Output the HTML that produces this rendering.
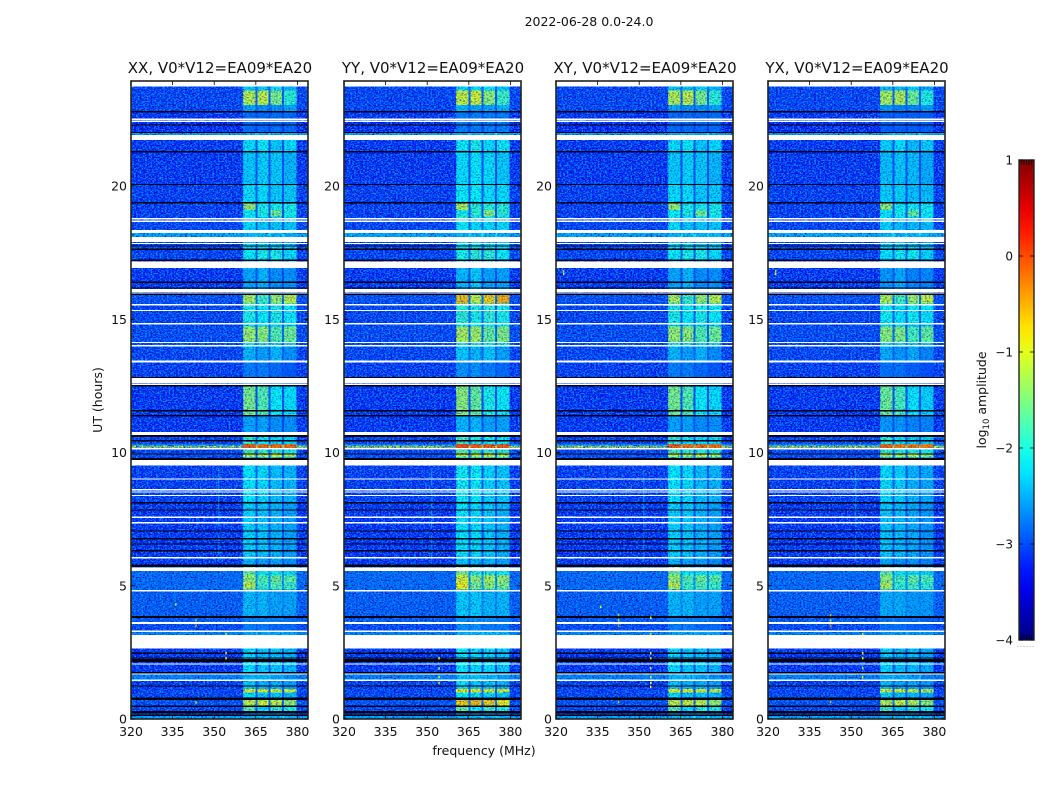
<!DOCTYPE html>
<html lang="en">
<head>
<meta charset="utf-8">
<title>2022-06-28 amplitude waterfall</title>
<style>
html,body{margin:0;padding:0;background:#fff;}
svg{display:block;}
text{font-family:"DejaVu Sans","Liberation Sans",sans-serif;fill:#111;}
</style>
</head>
<body>
<svg id="chart" xmlns="http://www.w3.org/2000/svg" width="1050" height="800" viewBox="0 0 1050 800">
<defs>
<filter id="speck-dark" x="0" y="0" width="100%" height="100%" color-interpolation-filters="sRGB">
<feTurbulence type="fractalNoise" baseFrequency="0.55 0.75" numOctaves="2" seed="3"/>
<feColorMatrix type="matrix" values="0 0 0 0 0  0 0 0 0 0  0 0 0 0 0.65  3.5 0 0 0 -1.6"/>
</filter>
<filter id="speck-light" x="0" y="0" width="100%" height="100%" color-interpolation-filters="sRGB">
<feTurbulence type="fractalNoise" baseFrequency="0.55 0.75" numOctaves="2" seed="11"/>
<feColorMatrix type="matrix" values="0 0 0 0 0  0 0 0 0 0.6  0 0 0 0 1  0 4 0 0 -1.7"/>
</filter>
<linearGradient id="jet-gradient" x1="0" y1="1" x2="0" y2="0"></linearGradient>
</defs>
<text x="589" y="26" text-anchor="middle" font-size="12.5">2022-06-28 0.0-24.0</text>
<text transform="translate(102,400) rotate(-90)" text-anchor="middle" font-size="12.5">UT (hours)</text>
<text x="484" y="755" text-anchor="middle" font-size="12.5">frequency (MHz)</text>
<text transform="translate(986,400) rotate(-90)" text-anchor="middle" font-size="12.5">log<tspan dy="3" font-size="8.5">10</tspan><tspan dy="-3"> amplitude</tspan></text>
</svg>
<script>
// ---------- chart data ----------
const panelTitles = ["XX, V0*V12=EA09*EA20", "YY, V0*V12=EA09*EA20", "XY, V0*V12=EA09*EA20", "YX, V0*V12=EA09*EA20"];
const panelBandGain = [0, 0.1, 0, -0.06];
const freqTicks = [320, 335, 350, 365, 380];
const utTicks = [0, 5, 10, 15, 20];
const colorTicks = [1, 0, -1, -2, -3, -4];

// channel groups along frequency (MHz); each group takes its level from channelSource
const channelEdges = [320, 360.4, 364.8, 365.6, 369.6, 370.2, 374.5, 375.1, 379.7, 383.8];
const channelSource = ["bg", "s1", "gap", "s2", "gap", "s3", "gap", "s4", "bg"];
const gapBoost = 0.35;

// UT blocks (hours) and their log10 amplitude per group
const utEdges = [0,0.11,0.3,0.46,0.8,1.0,1.12,1.43,1.68,2.64,3.3,3.56,3.86,4.85,5.15,5.4,5.7,6.05,8.1,9.7,9.83,9.98,10.17,10.26,10.32,10.6,11.4,12.55,13.4,14.0,14.15,14.72,14.85,15.6,15.95,16.9,17.2,17.7,18.09,18.24,18.7,18.85,19.1,19.4,20.05,21.3,21.75,22.0,22.45,22.75,23.04,23.58,23.94];
const levelBg = [-2.4,-3.1,-3.2,-3.1,-3.2,-3.2,-3.25,-2.7,-3.3,-2.7,-3.15,-3.0,-3.0,-2.9,-2.9,-2.9,-3.3,-3.3,-3.25,-3.2,-3.1,-3.2,-0.95,-2.7,-3.2,-3.3,-3.3,-3.25,-3.2,-3.1,-3.15,-3.2,-3.2,-3.1,-3.3,-3.3,-3.2,-3.2,-2.4,-3.2,-3.25,-3.25,-3.25,-3.25,-3.3,-3.3,-2.45,-3.4,-3.3,-3.2,-3.2,-3.2];
const levelS1 = [-2.4,-2.5,-1.7,-1.15,-2.2,-0.95,-2.3,-2.4,-2.2,-2.5,-2.7,-2.7,-2.4,-1.2,-1.35,-1.6,-2.4,-2.25,-2.15,-2.2,-1.1,-1.8,-0.1,-0.1,-1.9,-2.5,-1.5,-2.7,-2.4,-2.1,-1.35,-2.2,-2.0,-1.25,-2.5,-2.3,-2.1,-2.2,-2.4,-2.2,-2.0,-2.1,-1.35,-2.2,-2.3,-2.2,-2.45,-2.8,-2.8,-2.5,-1.2,-2.3];
const levelS2 = [-2.4,-2.5,-2.2,-1.05,-2.3,-0.95,-2.4,-2.4,-2.3,-2.5,-2.7,-2.7,-2.4,-1.8,-1.7,-2.1,-2.5,-2.3,-2.2,-2.2,-1.1,-1.9,-0.2,-0.2,-2.1,-2.5,-1.7,-2.7,-2.5,-2.1,-1.4,-2.2,-2.1,-1.8,-2.4,-2.3,-2.0,-2.2,-2.4,-2.3,-2.15,-2.0,-2.0,-2.2,-2.25,-2.1,-2.45,-2.8,-2.8,-2.6,-1.15,-2.3];
const levelS3 = [-2.4,-2.5,-1.9,-1.15,-2.3,-1.05,-2.4,-2.5,-2.3,-2.5,-2.8,-2.7,-2.5,-1.7,-1.55,-2.1,-2.5,-2.4,-2.35,-2.3,-0.9,-2.0,-0.2,-0.2,-2.2,-2.6,-2.1,-2.8,-2.4,-2.2,-1.7,-2.3,-2.0,-1.35,-2.6,-2.4,-2.0,-2.3,-2.4,-2.3,-2.2,-1.55,-2.0,-2.3,-2.3,-2.3,-2.45,-2.8,-2.8,-2.6,-1.5,-2.2];
const levelS4 = [-2.4,-2.6,-2.0,-1.35,-2.4,-1.1,-2.5,-2.6,-2.4,-2.5,-2.8,-2.8,-2.5,-1.8,-1.65,-2.2,-2.6,-2.5,-2.4,-2.3,-1.2,-2.0,-0.2,-0.2,-2.2,-2.6,-2.2,-2.9,-2.6,-2.2,-1.55,-2.3,-2.1,-1.15,-2.6,-2.4,-2.2,-2.3,-2.4,-2.3,-2.1,-2.0,-2.0,-2.3,-2.4,-2.2,-2.45,-2.8,-2.8,-2.5,-1.9,-2.4];

// per-panel brightening of selected UT ranges (in-band only)
const boostPanel = [1, 1, 1, 3];
const boostStart = [15.6, 0.46, 4.85, 15.6];
const boostEnd = [15.95, 0.8, 5.4, 15.95];
const boostValue = [0.55, 0.35, 0.2, 0.1];

// flagged (blank) UT ranges, hours
const flagStart = [23.74,22.50,22.42,21.73,18.75,18.67,18.24,17.90,17.85,16.92,16.03,15.98,15.53,15.31,14.82,14.10,13.99,13.37,12.61,12.56,10.66,10.12,9.52,9.01,8.59,8.49,8.37,7.55,7.35,6.03,5.56,4.80,3.56,3.26,2.64,2.06,1.68,1.43];
const flagEnd = [23.94,22.53,22.45,21.91,18.79,18.70,18.35,18.09,17.87,17.16,16.14,16.01,15.57,15.35,14.86,14.15,14.03,13.45,12.80,12.58,10.77,10.17,9.71,9.03,8.63,8.54,8.41,7.59,7.39,6.08,5.68,4.84,3.64,3.33,3.16,2.09,1.71,1.49];

// zero-amplitude (black) UT ranges, hours
const zeroStart = [22.77,22.29,21.99,21.28,20.05,19.37,17.73,17.64,17.21,16.39,16.15,15.94,12.81,12.49,11.56,11.36,10.59,10.44,9.94,9.72,8.11,7.83,7.04,6.77,6.54,6.30,5.71,3.79,2.44,2.27,2.14,1.73,1.22,0.71,0.46,0.21,0.12];
const zeroEnd = [22.81,22.31,22.03,21.31,20.08,19.40,17.77,17.65,17.24,16.41,16.20,15.96,12.84,12.53,11.59,11.40,10.65,10.47,9.97,9.80,8.14,7.87,7.08,6.79,6.59,6.34,5.80,3.86,2.49,2.31,2.25,1.76,1.26,0.80,0.50,0.30,0.16];

// narrow-band interference streak
const streakFreq = [351.4, 351.4];
const streakStart = [5.9, 7.2];
const streakEnd = [6.9, 9.4];
const streakLevel = [-2.6, -2.5];

// isolated bright points: panel index, MHz, hour, log10 amplitude
const speckPanel = [0,0,0,0,0,0,0,1,1,1,1,2,2,2,2,2,2,2,2,2,2,2,2,2,2,2,3,3,3,3,3,3,3,3,3,3,3];
const speckFreq = [335.9,343.2,343.2,354,354,354,343.2,354,354,354,354,342.3,342.3,342.3,353.9,353.9,353.9,353.9,353.9,353.9,353.9,353.9,342.3,335.9,322.5,322.5,342.3,342.3,342.3,353.9,353.9,353.9,353.9,353.9,342.3,322.5,322.5];
const speckUT = [4.3,3.7,3.5,3.18,2.47,2.28,0.62,2.28,1.9,1.57,1.35,3.9,3.7,3.5,3.8,3.18,2.47,2.28,1.9,1.57,1.35,1.2,0.64,4.21,16.8,16.7,3.9,3.7,3.5,3.18,2.47,2.28,1.9,1.57,0.64,16.8,16.7];
const speckLevel = [-1,-0.5,-0.4,-1,-1,-0.9,-0.7,-1,-1,-1,-1,-0.5,-0.6,-0.3,-0.9,-0.7,-0.9,-0.7,-1,-1,-0.9,-0.8,-0.5,-1,-0.6,-1,-0.5,-0.6,-0.3,-0.8,-0.9,-0.9,-1,-1,-0.5,-0.6,-1];

// ---------- axes and layout ----------
const freqMin = 320, freqMax = 383.8, utMin = 0, utMax = 23.94;
const levelMin = -4, levelMax = 1;
const panelLefts = [131, 344, 556, 768];
const plotW = 177, plotH = 638, plotBottom = 719;
const barLeft = 1019, barW = 15, barTop = 160, barH = 480;
const minRowPx = 1.3;
const svg = document.getElementById('chart');
const NS = 'http://www.w3.org/2000/svg';

function xScale(f, left) { return left + (f - freqMin) / (freqMax - freqMin) * plotW; }
function yScale(h) { return plotBottom - (h - utMin) / (utMax - utMin) * plotH; }
function barScale(v) { return barTop + barH - (v - levelMin) / (levelMax - levelMin) * barH; }

function jet(v) {
  const t = Math.max(0, Math.min(1, (v - levelMin) / (levelMax - levelMin)));
  const ramp = function (c) { return Math.round(255 * Math.max(0, Math.min(1, 1.5 - Math.abs(4 * t - c)))); };
  return 'rgb(' + ramp(3) + ',' + ramp(2) + ',' + ramp(1) + ')';
}
function make(tag, attrs, parent) {
  const el = document.createElementNS(NS, tag);
  for (const k in attrs) el.setAttribute(k, attrs[k]);
  (parent || svg).appendChild(el);
  return el;
}
function levelFor(source, r, p) {
  if (source === 'bg') return levelBg[r];
  if (source === 'gap') return levelBg[r] + gapBoost;
  const table = { s1: levelS1, s2: levelS2, s3: levelS3, s4: levelS4 }[source];
  if (table[r] === levelBg[r]) return table[r];
  let level = table[r] + panelBandGain[p];
  const mid = (utEdges[r] + utEdges[r + 1]) / 2;
  boostPanel.forEach(function (bp, i) {
    if (bp === p && mid >= boostStart[i] && mid <= boostEnd[i]) level += boostValue[i];
  });
  return level;
}

panelLefts.forEach(function (left, p) {
  const right = left + plotW;
  const g = make('g', {});
  
  

  const title = make('text', { x: left + plotW / 2 + 0.5, y: 73, 'text-anchor': 'middle', 'font-size': '15' }, g);
  title.textContent = panelTitles[p];
  
  

  // heatmap blocks
  for (let r = 0; r < utEdges.length - 1; r++) {
    for (let c = 0; c < channelSource.length; c++) {
      const x0 = xScale(channelEdges[c], left);
      const x1 = xScale(channelEdges[c + 1], left);
      const y0 = yScale(utEdges[r + 1]);
      const y1 = yScale(utEdges[r]);
      const cell = make('rect', { x: x0, y: y0, width: x1 - x0, height: y1 - y0, fill: jet(levelFor(channelSource[c], r, p)), 'shape-rendering': 'crispEdges' }, g);
      
      
    }
  }
  // interference streaks
  streakFreq.forEach(function (f, i) {
    const s = make('rect', { x: xScale(f, left), y: yScale(streakEnd[i]), width: 1.2, height: yScale(streakStart[i]) - yScale(streakEnd[i]), fill: jet(streakLevel[i]) }, g);
    
    
  });
  // pixel-scale grain (texture only, carries no data): strong off-band, mostly dark in-band
  const bandLeft = xScale(channelEdges[1], left);
  const bandRight = xScale(channelEdges[8], left);
  const grainSpans = [[left, bandLeft, 1, 1], [bandLeft, bandRight, 0.55, 0.12], [bandRight, right, 1, 1]];
  grainSpans.forEach(function (span) {
    const dark = make('rect', { x: span[0], y: plotBottom - plotH, width: span[1] - span[0], height: plotH, filter: 'url(#speck-dark)', opacity: span[2] }, g);
    
    
    const light = make('rect', { x: span[0], y: plotBottom - plotH, width: span[1] - span[0], height: plotH, filter: 'url(#speck-light)', opacity: span[3] }, g);
    
    
  });

  // flagged rows
  flagStart.forEach(function (h, i) {
    const row = make('rect', { x: left, y: yScale(flagEnd[i]), width: plotW, height: Math.max(minRowPx, yScale(h) - yScale(flagEnd[i])), fill: '#fff', 'shape-rendering': 'crispEdges' }, g);
    
    
  });
  zeroStart.forEach(function (h, i) {
    const row = make('rect', { x: left, y: yScale(zeroEnd[i]), width: plotW, height: Math.max(minRowPx, yScale(h) - yScale(zeroEnd[i])), fill: '#02020f', 'shape-rendering': 'crispEdges' }, g);
    
    
  });
  // bright points
  speckFreq.forEach(function (f, i) {
    if (speckPanel[i] !== p) return;
    const pt = make('rect', { x: xScale(f, left), y: yScale(speckUT[i]) - 1.2, width: 1.4, height: 2.4, fill: jet(speckLevel[i]) }, g);
    
    
  });

  // frame
  const frame = make('rect', { x: left, y: plotBottom - plotH, width: plotW, height: plotH, fill: 'none', stroke: '#222', 'stroke-width': 1.6 }, g);
  
  

  // ticks and labels
  freqTicks.forEach(function (f) {
    const x = xScale(f, left);
    const top = make('line', { x1: x, x2: x, y1: plotBottom - plotH, y2: plotBottom - plotH + 4, stroke: '#000', 'stroke-width': 0.8 }, g);
    
    
    const bot = make('line', { x1: x, x2: x, y1: plotBottom, y2: plotBottom - 4, stroke: '#000', 'stroke-width': 0.8 }, g);
    
    
    const lab = make('text', { x: x, y: 736, 'text-anchor': 'middle', 'font-size': '12.5' }, g);
    lab.textContent = f;
    
    
  });
  utTicks.forEach(function (h) {
    const y = yScale(h);
    const l = make('line', { x1: left, x2: left + 4, y1: y, y2: y, stroke: '#000', 'stroke-width': 0.8 }, g);
    
    
    const r = make('line', { x1: right, x2: right - 4, y1: y, y2: y, stroke: '#000', 'stroke-width': 0.8 }, g);
    
    
    const lab = make('text', { x: left - 4, y: y + 4.5, 'text-anchor': 'end', 'font-size': '12.5' }, g);
    lab.textContent = h;
    
    
  });
});

// ---------- colour bar ----------
const grad = document.getElementById('jet-gradient');
for (let v = levelMin; v <= levelMax + 1e-6; v += 0.25) {
  make('stop', { offset: ((v - levelMin) / (levelMax - levelMin) * 100) + '%', 'stop-color': jet(v) }, grad);
}
const bar = make('rect', { x: barLeft, y: barTop, width: barW, height: barH, fill: 'url(#jet-gradient)', stroke: '#222', 'stroke-width': 1.4 });


colorTicks.forEach(function (v) {
  const y = barScale(v);
  const a = make('line', { x1: barLeft, x2: barLeft + 4, y1: y, y2: y, stroke: '#000', 'stroke-width': 0.8 });
  
  
  const b = make('line', { x1: barLeft + barW, x2: barLeft + barW - 4, y1: y, y2: y, stroke: '#000', 'stroke-width': 0.8 });
  
  
  const lab = make('text', { x: barLeft - 6, y: y + 4.5, 'text-anchor': 'end', 'font-size': '12' });
  lab.textContent = v < 0 ? '\u2212' + Math.abs(v) : String(v);
  
  
});
// short edge ticks at both ends of the bar, and the clipped dots beneath it
for (let i = 1; i <= 5; i++) {
  const x = barLeft + i * barW / 6;
  const t = make('line', { x1: x, x2: x, y1: barTop, y2: barTop + 5, stroke: '#000', 'stroke-width': 0.7 });
  
  
  const b = make('line', { x1: x, x2: x, y1: barTop + barH, y2: barTop + barH - 5, stroke: '#000', 'stroke-width': 0.7 });
  
  
}
for (let i = 0; i < 6; i++) {
  const dot = make('rect', { x: barLeft - 1.5 + i * 3, y: 646, width: 1, height: 1, fill: '#aaa' });
  
  
}
</script>
</body>
</html>
